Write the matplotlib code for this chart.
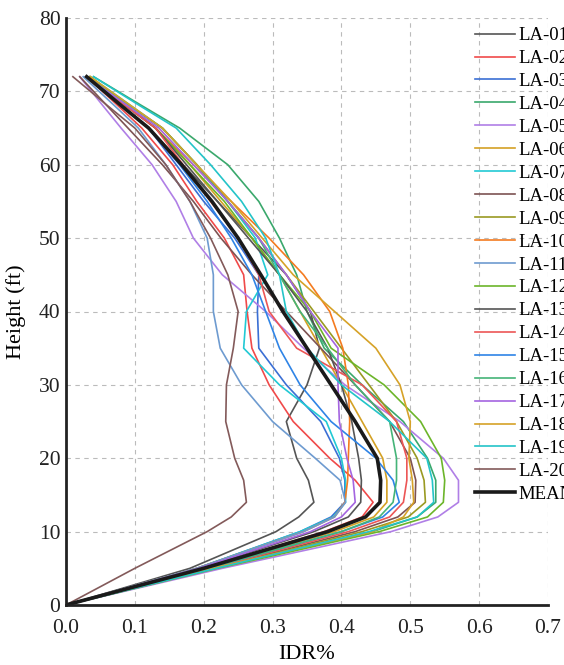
import matplotlib
matplotlib.use("Agg")
import matplotlib.pyplot as plt
from matplotlib.ticker import FormatStrFormatter

plt.rcParams['font.family'] = ['Liberation Serif', 'DejaVu Serif']

height = [0, 5, 10, 12, 14, 17, 20, 25, 30, 35, 40, 45, 50, 55, 60, 65, 68, 72]

la01 = [0, .180, .305, .338, .360, .352, .335, .320, .350, .368, .355, .320, .270, .220, .170, .120, .081, .030]
la02 = [0, .199, .375, .430, .446, .420, .383, .330, .295, .270, .263, .258, .230, .190, .155, .110, .076, .030]
la03 = [0, .190, .340, .385, .405, .405, .397, .370, .320, .280, .278, .280, .245, .200, .160, .120, .081, .030]
la04 = [0, .220, .445, .510, .537, .537, .525, .490, .430, .375, .350, .335, .310, .280, .235, .165, .111, .040]
la05 = [0, .227, .472, .540, .570, .570, .548, .485, .405, .345, .290, .227, .185, .160, .125, .080, .054, .020]
la06 = [0, .204, .390, .447, .466, .466, .460, .430, .400, .370, .340, .310, .270, .225, .180, .130, .089, .035]
la07 = [0, .190, .340, .388, .406, .406, .400, .378, .310, .258, .262, .293, .275, .235, .190, .140, .095, .035]
la08 = [0, .213, .420, .482, .507, .508, .500, .470, .420, .370, .320, .270, .225, .185, .140, .090, .060, .020]
la09 = [0, .216, .430, .497, .522, .520, .510, .480, .440, .400, .360, .320, .280, .235, .190, .140, .093, .030]
la10 = [0, .190, .345, .390, .405, .409, .410, .412, .410, .402, .383, .345, .295, .240, .185, .130, .089, .035]
la11 = [0, .190, .345, .390, .406, .398, .362, .300, .255, .224, .214, .214, .205, .180, .145, .105, .071, .025]
la12 = [0, .220, .455, .525, .548, .550, .545, .515, .462, .385, .355, .310, .270, .230, .180, .130, .089, .035]
la13 = [0, .194, .360, .410, .428, .429, .425, .415, .400, .380, .350, .310, .265, .220, .175, .130, .087, .030]
la14 = [0, .210, .410, .470, .490, .495, .495, .480, .430, .335, .295, .280, .250, .210, .170, .130, .087, .030]
la15 = [0, .207, .400, .460, .484, .475, .450, .385, .340, .310, .290, .270, .240, .205, .165, .120, .081, .030]
la16 = [0, .206, .400, .455, .475, .480, .480, .470, .420, .380, .340, .310, .280, .235, .190, .140, .093, .030]
la17 = [0, .193, .355, .400, .420, .417, .408, .397, .395, .395, .355, .320, .280, .235, .185, .135, .090, .030]
la18 = [0, .212, .445, .490, .505, .503, .498, .500, .485, .450, .390, .330, .285, .240, .190, .140, .095, .035]
la19 = [0, .218, .440, .510, .534, .532, .524, .470, .400, .350, .320, .310, .290, .255, .210, .160, .108, .040]
la20 = [0, .100, .205, .240, .262, .258, .245, .232, .233, .243, .250, .235, .210, .180, .145, .100, .061, .010]
mean = [0, .200, .380, .435, .456, .457, .452, .420, .385, .350, .315, .283, .250, .212, .168, .120, .081, .030]

records = [la01, la02, la03, la04, la05, la06, la07, la08, la09, la10,
           la11, la12, la13, la14, la15, la16, la17, la18, la19, la20]
names = ['LA-%02d' % i for i in range(1, 21)]
colors = ['#555555', '#f04a4a', '#3b6fd4', '#3aa86c', '#b07fe6',
          '#d4a125', '#22c9d4', '#7d5353', '#9a9a22', '#f47b20',
          '#6e9bd0', '#6cb52a', '#555555', '#ec5656', '#2f84e6',
          '#45b478', '#a465e0', '#d6a228', '#24c4c8', '#835a5a']

fig = plt.figure(figsize=(5.64, 6.65), dpi=100)
ax = fig.add_axes([66/564, 60/665, 482/564, 587/665])

for vals, name, c in zip(records, names, colors):
    ax.plot(vals, height, color=c, lw=1.2, label=name, solid_joinstyle='round')
ax.plot(mean, height, color='#1a1a1a', lw=2.6, label='MEAN', solid_joinstyle='round')

ax.set_xlim(0, 0.7)
ax.set_ylim(0, 80)
ax.set_xticks([0, 0.1, 0.2, 0.3, 0.4, 0.5, 0.6, 0.7])
ax.set_yticks(range(0, 81, 10))
ax.xaxis.set_major_formatter(FormatStrFormatter('%.1f'))
ax.tick_params(length=0, labelsize=15.5, colors='#222222')
ax.tick_params(axis='x', pad=10)
ax.tick_params(axis='y', pad=4)
ax.grid(True, ls=(0, (4, 4)), color='#bbbbbb', lw=0.8)
ax.set_axisbelow(True)
for s in ['top', 'right']:
    ax.spines[s].set_visible(False)
for s in ['left', 'bottom']:
    ax.spines[s].set_linewidth(2)
    ax.spines[s].set_color('#222222')

ax.set_xlabel('IDR%', fontsize=16, labelpad=5)
ax.set_ylabel('Height (ft)', fontsize=16, labelpad=9)

fig.legend(loc='upper left', bbox_to_anchor=(475/564, 1 - 27/665), frameon=False,
           fontsize=13.5, handlelength=2.15, handletextpad=0.15, labelspacing=0.31,
           borderpad=0, borderaxespad=0)

fig.savefig('out.png', dpi=100)
